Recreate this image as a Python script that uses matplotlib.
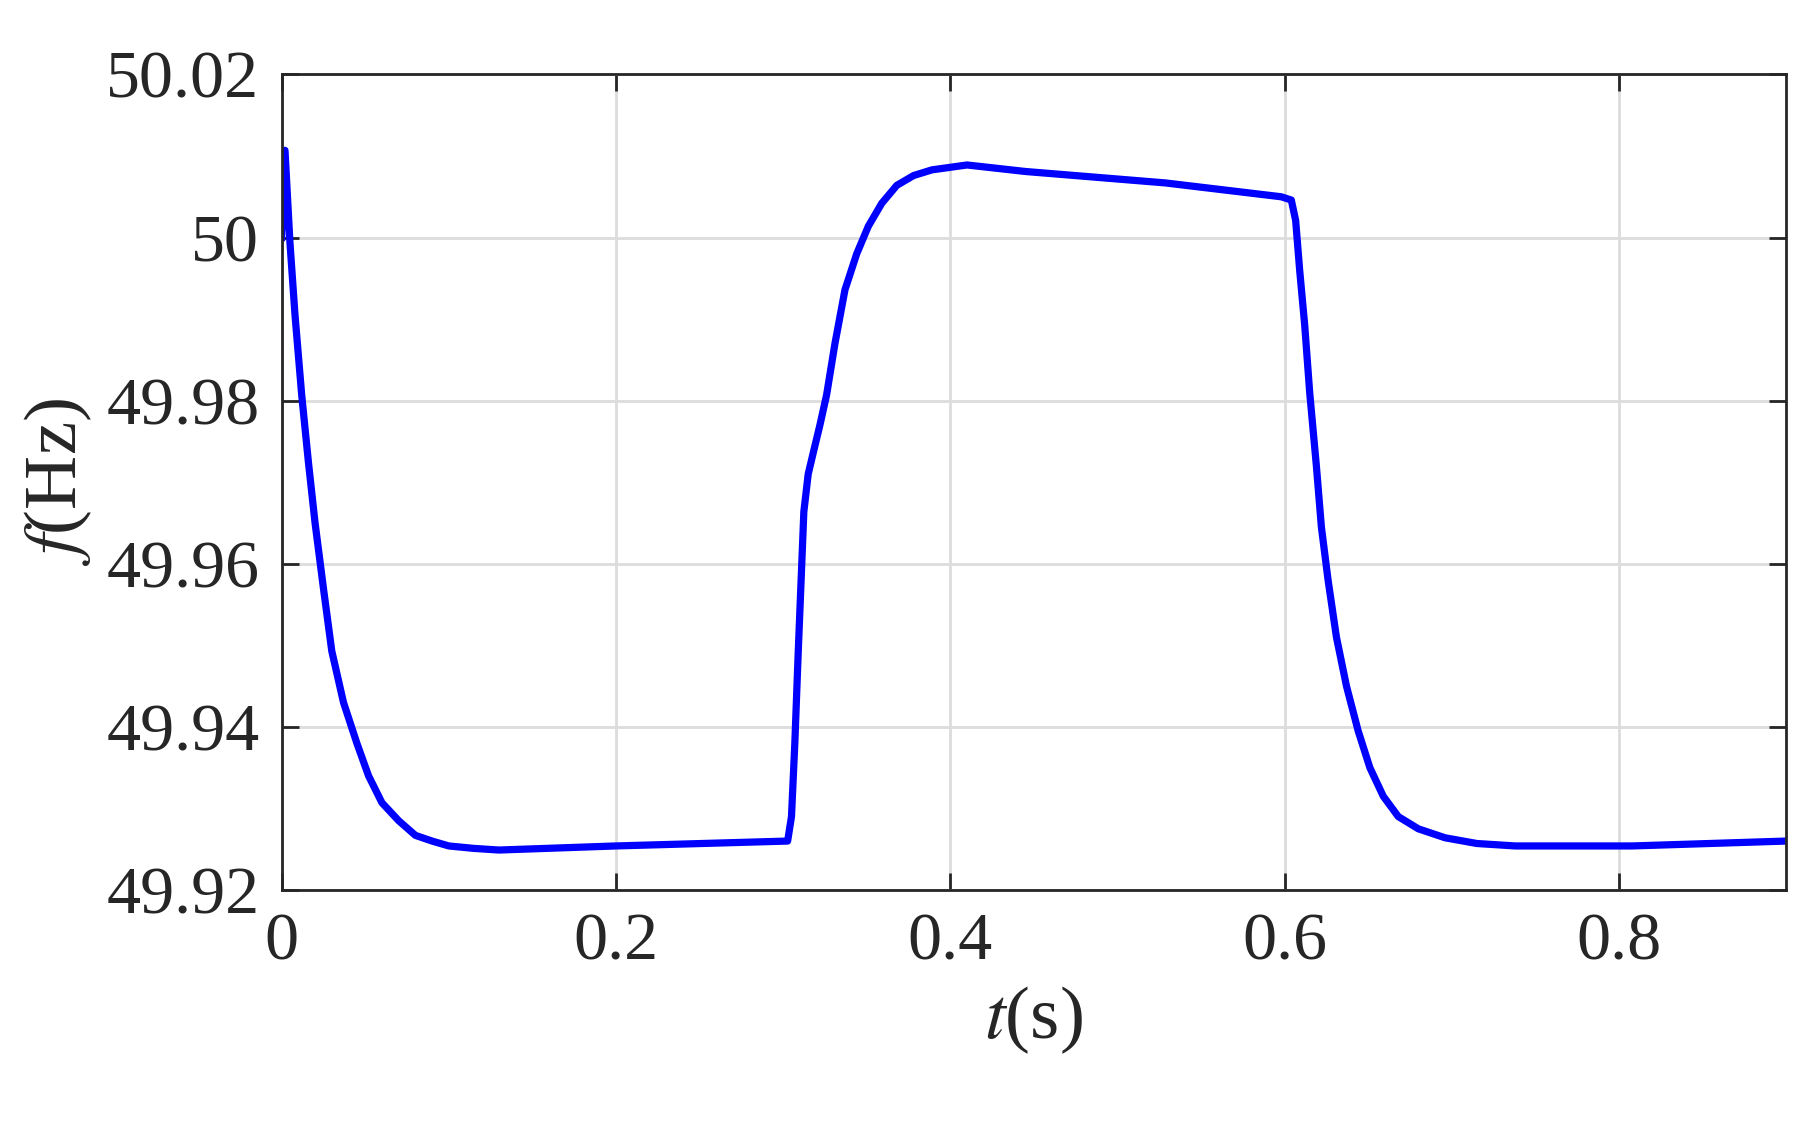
import matplotlib
matplotlib.use('Agg')
import matplotlib.pyplot as plt

# dados
t = [0.0, 0.002, 0.005, 0.008, 0.012, 0.016, 0.02, 0.025, 0.03, 0.037, 0.045, 0.052, 0.06,
     0.07, 0.08, 0.09, 0.1, 0.115, 0.13, 0.2, 0.3027,
     0.305, 0.307, 0.309, 0.3124, 0.315, 0.318, 0.322, 0.326, 0.331, 0.337, 0.344, 0.351,
     0.359, 0.368, 0.378, 0.389, 0.41, 0.445, 0.5286,
     0.598, 0.604, 0.6066, 0.609, 0.612, 0.615, 0.619, 0.622, 0.626, 0.631, 0.637, 0.644,
     0.651, 0.659, 0.668, 0.68, 0.696, 0.715, 0.738, 0.808, 0.9]
f = [50.0, 50.0107, 49.9993, 49.9905, 49.9807, 49.9725, 49.965, 49.957, 49.9493, 49.943,
     49.938, 49.934, 49.9307, 49.9285, 49.9267, 49.926, 49.9254, 49.9251,
     49.9249, 49.9254, 49.926, 49.929, 49.938, 49.949, 49.9664, 49.971, 49.9736, 49.977,
     49.9807, 49.987, 49.9936, 49.998, 50.0014, 50.0042, 50.0064, 50.0076, 50.0083, 50.0089,
     50.0081, 50.0067, 50.005, 50.0046, 50.0021, 49.996, 49.9893, 49.981, 49.972, 49.9645,
     49.958, 49.951, 49.945, 49.9395, 49.935, 49.9315, 49.929, 49.9275, 49.9264, 49.9257,
     49.9254, 49.9254, 49.926]
xticks = [0, 0.2, 0.4, 0.6, 0.8]
xlabels = ['0', '0.2', '0.4', '0.6', '0.8']
yticks = [49.92, 49.94, 49.96, 49.98, 50.0, 50.02]
ylabels = ['49.92', '49.94', '49.96', '49.98', '50', '50.02']

plt.rcParams['font.family'] = ['Liberation Serif', 'DejaVu Serif']
plt.rcParams['mathtext.fontset'] = 'stix'

fig = plt.figure(figsize=(9.085, 5.64), dpi=200)
ax = fig.add_axes([0.155, 0.211, 0.828, 0.723])
ax.plot(t, f, color='#0000ff', linewidth=2.6)
ax.set_xlim(0, 0.9)
ax.set_ylim(49.92, 50.02)
ax.set_xticks(xticks)
ax.set_xticklabels(xlabels)
ax.set_yticks(yticks)
ax.set_yticklabels(ylabels)
ax.grid(True, color='#dcdcdc', linewidth=1.0)
ax.set_axisbelow(True)
ax.tick_params(direction='in', top=True, right=True, length=6, width=1.0,
               labelsize=24.5, colors='#262626', pad=8)
for s in ax.spines.values():
    s.set_color('#262626')
    s.set_linewidth(1.0)
ax.set_xlabel('$t$(s)', fontsize=27, color='#262626', labelpad=4)
ax.set_ylabel('$f$(Hz)', fontsize=27, color='#262626')
ax.yaxis.set_label_coords(-0.125, 0.5)
fig.savefig('out.png', dpi=200)
